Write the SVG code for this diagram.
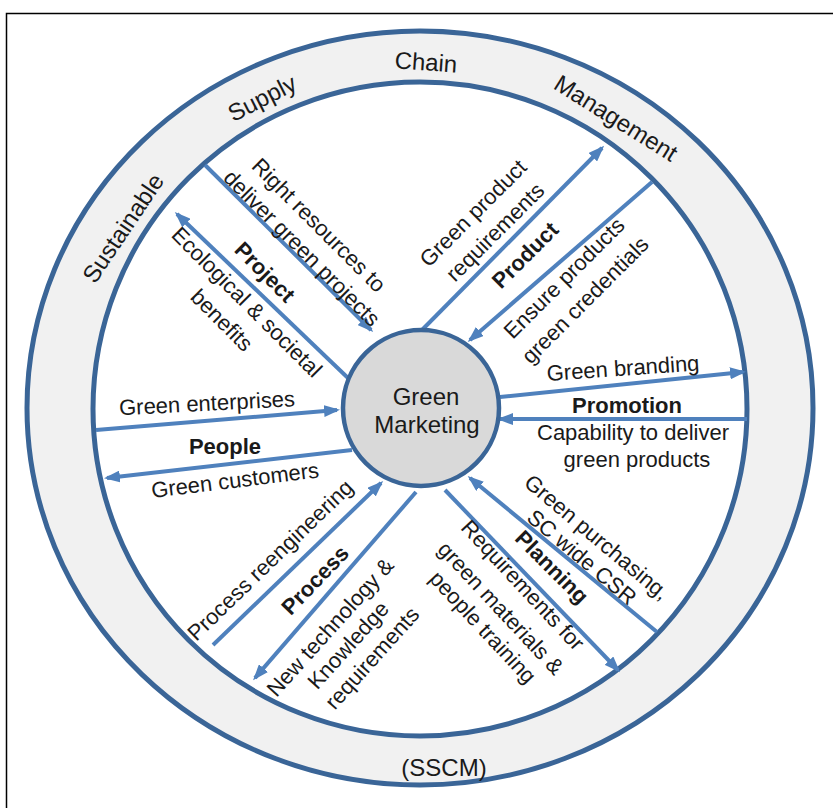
<svg xmlns="http://www.w3.org/2000/svg" width="833" height="808" viewBox="0 0 833 808">
<style>
text{font-family:"Liberation Sans",Arial,sans-serif;fill:#1a1a1a;text-anchor:middle}
.lb{font-size:22px}
.b{font-size:22px;font-weight:bold}
.rg{font-size:24px}
.cn{font-size:24px}
.sp{stroke:#4f81bd;stroke-width:4;fill:none}
.ring{stroke:#3a6597;stroke-width:5}
</style>
<defs>
<marker id="ah" markerUnits="userSpaceOnUse" markerWidth="16" markerHeight="12" refX="13" refY="6" orient="auto"><path d="M0,0 L16,6 L0,12 z" fill="#4f81bd"/></marker>
</defs>
<rect x="0" y="0" width="833" height="808" fill="#fff"/>
<rect x="6.5" y="13.5" width="830" height="800" fill="#fff" stroke="#000" stroke-width="1.5"/>
<g id="ring">
<ellipse class="ring" cx="420" cy="408" rx="393" ry="377" fill="#f1f1f1"/>
<circle class="ring" cx="420" cy="409" r="327" fill="#fff"/>
<text class="rg" transform="translate(123,228) rotate(-56)" y="8.4">Sustainable</text>
<text class="rg" transform="translate(262,98) rotate(-27)" y="8.4">Supply</text>
<text class="rg" transform="translate(426,62) rotate(4)" y="8.4">Chain</text>
<text class="rg" transform="translate(616,118) rotate(32)" y="8.4">Management</text>
<text class="rg" x="444" y="776">(SSCM)</text>
</g>
<g id="connectors" class="sp" marker-end="url(#ah)">
<line x1="205" y1="165" x2="371" y2="330"/>
<line x1="348" y1="378" x2="177" y2="214"/>
<line x1="420" y1="332" x2="602" y2="148"/>
<line x1="652" y1="182" x2="470" y2="340"/>
<line x1="500" y1="397" x2="743" y2="372"/>
<line x1="747" y1="419" x2="500" y2="419"/>
<line x1="96" y1="430" x2="337" y2="410"/>
<line x1="352" y1="450" x2="107" y2="478"/>
<line x1="213" y1="645" x2="381" y2="483"/>
<line x1="416" y1="492" x2="255" y2="678"/>
<line x1="657" y1="632" x2="470" y2="478"/>
<line x1="445" y1="490" x2="618" y2="670"/>
</g>
<g id="green-marketing">
<circle cx="421" cy="408" r="78" fill="#d9d9d9" stroke="#3a6597" stroke-width="4.5"/>
<text class="cn" x="426" y="405">Green</text>
<text class="cn" x="427" y="433">Marketing</text>
</g>
<g id="project">
<text class="lb" transform="translate(319,225) rotate(45)" y="7.7">Right resources to</text>
<text class="lb" transform="translate(302,248) rotate(45)" y="7.7">deliver green projects</text>
<text class="b" transform="translate(265,272) rotate(45)" y="7.7">Project</text>
<text class="lb" transform="translate(247,302) rotate(45)" y="7.7">Ecological &amp; societal</text>
<text class="lb" transform="translate(222,320) rotate(45)" y="7.7">benefits</text>
</g>
<g id="product">
<text class="lb" transform="translate(473,213) rotate(-45)" y="7.7">Green product</text>
<text class="lb" transform="translate(495,232) rotate(-45)" y="7.7">requirements</text>
<text class="b" transform="translate(525,255) rotate(-45)" y="7.7">Product</text>
<text class="lb" transform="translate(564,278) rotate(-45)" y="7.7">Ensure products</text>
<text class="lb" transform="translate(585,300) rotate(-45)" y="7.7">green credentials</text>
</g>
<g id="promotion">
<text class="lb" transform="translate(623,368) rotate(-4)" y="7.7">Green branding</text>
<text class="b" x="627" y="413">Promotion</text>
<text class="lb" x="633" y="440">Capability to deliver</text>
<text class="lb" x="637" y="467">green products</text>
</g>
<g id="people">
<text class="lb" transform="translate(207,403) rotate(-3)" y="7.7">Green enterprises</text>
<text class="b" transform="translate(225,446) rotate(0)" y="7.7">People</text>
<text class="lb" transform="translate(235,480) rotate(-7)" y="7.7">Green customers</text>
</g>
<g id="process">
<text class="lb" transform="translate(270,560) rotate(-44)" y="7.7">Process reengineering</text>
<text class="b" transform="translate(315,580) rotate(-46)" y="7.7">Process</text>
<text class="lb" transform="translate(330,627) rotate(-48)" y="7.7">New technology &amp;</text>
<text class="lb" transform="translate(348,645) rotate(-48)" y="7.7">Knowledge</text>
<text class="lb" transform="translate(372,658) rotate(-48)" y="7.7">requirements</text>
</g>
<g id="planning">
<text class="lb" transform="translate(597,537) rotate(40)" y="7.7">Green purchasing,</text>
<text class="lb" transform="translate(582,557) rotate(40)" y="7.7">SC wide CSR</text>
<text class="b" transform="translate(552,567) rotate(45)" y="7.7">Planning</text>
<text class="lb" transform="translate(523,585) rotate(47)" y="7.7">Requirements for</text>
<text class="lb" transform="translate(501,608) rotate(47)" y="7.7">green materials &amp;</text>
<text class="lb" transform="translate(483,627) rotate(47)" y="7.7">people training</text>
</g>
</svg>
